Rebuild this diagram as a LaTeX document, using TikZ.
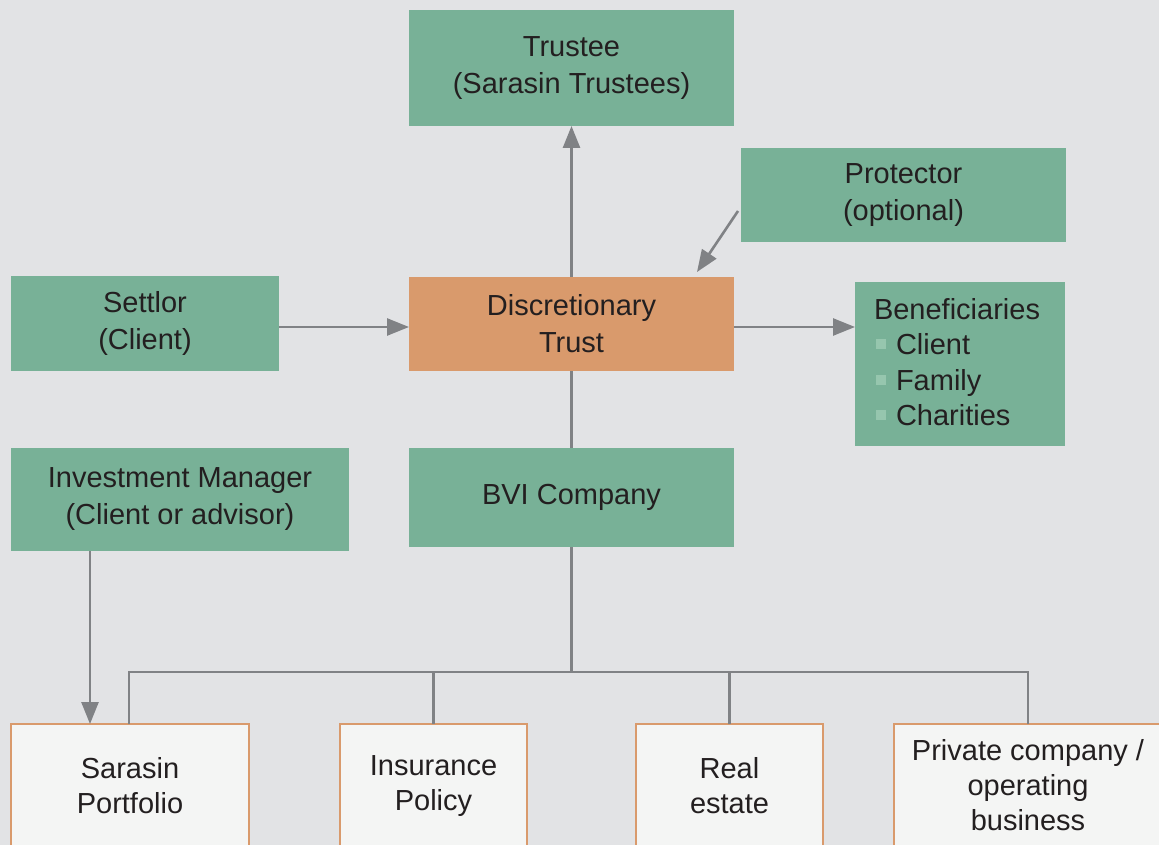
\documentclass[tikz,border=0pt]{standalone}
\usepackage{fontspec}
\setmainfont{Liberation Sans}
\usetikzlibrary{arrows.meta}
\definecolor{bg}{HTML}{E2E3E5}
\definecolor{grn}{HTML}{78B197}
\definecolor{org}{HTML}{D99A6C}
\definecolor{pale}{HTML}{F4F5F4}
\definecolor{conncol}{HTML}{808285}
\definecolor{txt}{HTML}{231F20}
\definecolor{bul}{HTML}{96C6AE}
\newcommand{\sqbul}{\hspace*{2pt}\textcolor{bul}{\rule[5.5pt]{10pt}{10pt}}\hspace{10pt}}
\begin{document}
\begin{tikzpicture}[x=1pt,y=-1pt,
  box/.style={rectangle, inner sep=0pt, outer sep=0pt, text=txt, align=center, font=\fontsize{29}{37}\selectfont},
  gbox/.style={box, fill=grn},
  obox/.style={box, fill=org},
  wbox/.style={box, fill=pale, draw=org, line width=2pt, font=\fontsize{29}{35}\selectfont},
  conn/.style={draw=conncol, line width=2.6pt},
  arr/.style={conn, -{Triangle[length=22pt,width=17pt]}}]
\useasboundingbox (0,0) rectangle (1159,845);
\fill[bg] (0,0) rectangle (1159,845);
\begin{scope}
\clip (0,0) rectangle (1159,845);
% boxes
\node[gbox, minimum width=325pt, minimum height=116pt] (trustee) at (571.5,68) {Trustee\\(Sarasin Trustees)};
\node[gbox, minimum width=325pt, minimum height=94pt] (prot) at (903.5,195) {Protector\\(optional)};
\node[gbox, minimum width=268pt, minimum height=95pt] (settlor) at (145,323.5) {Settlor\\(Client)};
\node[obox, minimum width=325pt, minimum height=94pt] (trust) at (571.5,324) {Discretionary\\Trust};
\node[gbox, minimum width=210pt, minimum height=164pt] (bene) at (960,364) {};
\node[box, anchor=west, align=left, font=\fontsize{29}{35.5}\selectfont] (benetext) at (874,362) {Beneficiaries\\\sqbul Client\\\sqbul Family\\\sqbul Charities};
\node[gbox, minimum width=338pt, minimum height=103pt] (im) at (180,499.5) {Investment Manager\\(Client or advisor)};
\node[gbox, minimum width=325pt, minimum height=99pt] (bvi) at (571.5,497.5) {BVI Company};
\node[wbox, minimum width=238pt, minimum height=123pt] (port) at (130,785.5) {Sarasin\\Portfolio};
\node[wbox, minimum width=187pt, minimum height=123pt] (ins) at (433.5,785.5) {\strut Insurance\\\strut Policy};
\node[wbox, minimum width=187pt, minimum height=123pt] (real) at (729.5,785.5) {Real\\estate};
\node[wbox, minimum width=268pt, minimum height=123pt] (priv) at (1028,785.5) {Private company /\\operating\\business};
% connectors
\draw[arr] (trust.north) -- (trustee.south);
\draw[arr] ([xshift=-3pt,yshift=-16pt]prot.west) -- ([xshift=-37pt,yshift=5pt]trust.north east);
\draw[arr] ([yshift=-3.5pt]settlor.east) -- ([yshift=-3.5pt]settlor.east -| trust.west);
\draw[arr] ([yshift=-3pt]trust.east) -- ([yshift=-3pt]trust.east -| bene.west);
\draw[conn] (trust.south) -- (bvi.north);
\coordinate (bus) at (571.5,672);
\draw[conn] (bvi.south) -- (bus);
\draw[conn] ([xshift=-1pt]port.north) |- (bus) -| (priv.north);
\draw[conn] (ins.north) -- (ins.north |- bus);
\draw[conn] (real.north) -- (real.north |- bus);
\coordinate (imfoot) at ([xshift=-90pt]im.south);
\draw[arr] (imfoot) -- (imfoot |- port.north);
\end{scope}
\end{tikzpicture}
\end{document}
